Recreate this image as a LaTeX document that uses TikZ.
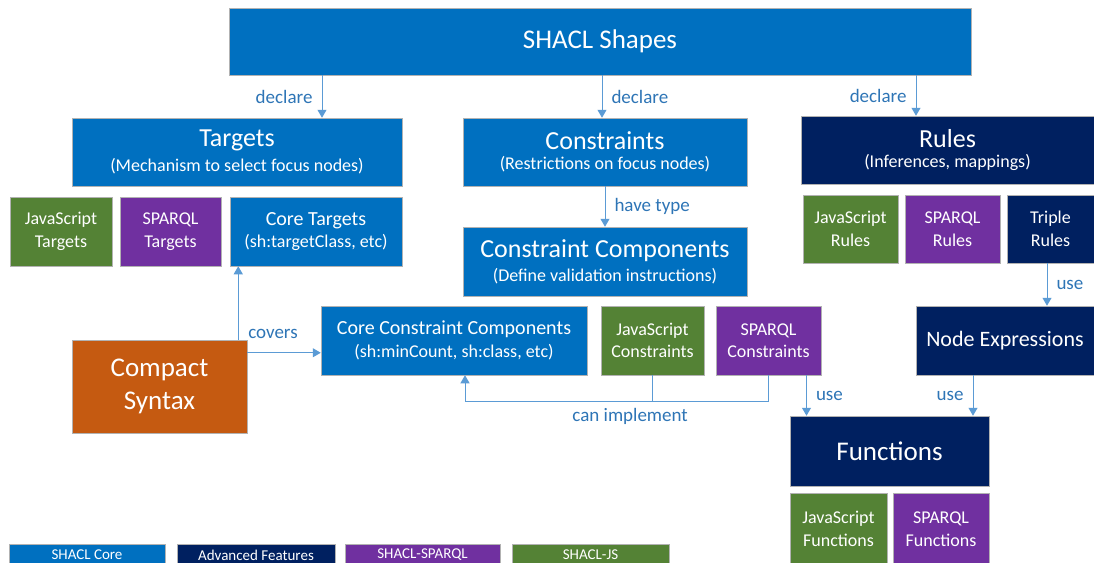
\documentclass[tikz,border=0pt]{standalone}
\usepackage{fontspec}
\setmainfont{Carlito}
\usetikzlibrary{arrows.meta}
\definecolor{coreblue}{HTML}{0070C0}
\definecolor{advnavy}{HTML}{002060}
\definecolor{jsgreen}{HTML}{548235}
\definecolor{sparqlpurple}{HTML}{7030A0}
\definecolor{compactorange}{HTML}{C55A11}
\definecolor{arrowblue}{HTML}{5B9BD5}
\definecolor{lblblue}{HTML}{2E75B6}
\newcommand{\fsz}[2][1.25]{\fontsize{#2}{#1\dimexpr #2pt\relax}\selectfont}
\begin{document}
\begin{tikzpicture}[x=1pt,y=-1pt,
  box/.style={draw=black!30, line width=0.5pt, text=white, align=center, inner sep=0pt},
  core/.style={box, fill=coreblue},
  adv/.style={box, fill=advnavy},
  js/.style={box, fill=jsgreen},
  sparql/.style={box, fill=sparqlpurple},
  arr/.style={draw=arrowblue, line width=1pt, -{Triangle[width=9pt,length=8pt]}},
  lbl/.style={text=lblblue, font=\fsz{19}, inner sep=9pt}]
  \useasboundingbox (0,0) rectangle (1094,562);
  \clip (0,0) rectangle (1094,562);
  \fill[white] (0,0) rectangle (1094,562);

  % top row
  \node[core, minimum width=742pt, minimum height=67pt, font=\fsz{27}] (shapes) at (600,41.5) {SHACL Shapes};
  \node[core, minimum width=330pt, minimum height=68pt] (targets) at (237,152)
    {\fsz[1]{26}Targets\\[6pt] \fsz[1]{18}(Mechanism to select focus nodes)};
  \node[core, minimum width=284pt, minimum height=68pt] (constraints) at (605,152)
    {\fsz[1]{26}Constraints\\[6pt] \fsz[1]{18}(Restrictions on focus nodes)};
  \node[adv, minimum width=293pt, minimum height=68pt] (rules) at (947.5,150)
    {\fsz[1]{26}Rules\\[6pt] \fsz[1]{18}(Inferences, mappings)};

  % targets
  \node[js, minimum width=102pt, minimum height=69pt, font=\fsz{18}] (jstargets) at (61,231.5) {JavaScript\\Targets};
  \node[sparql, minimum width=101pt, minimum height=69pt, font=\fsz{18}] (sparqltargets) at (170.5,231.5) {SPARQL\\Targets};
  \node[core, minimum width=172pt, minimum height=69pt] (coretargets) at (316,231.5)
    {\fsz[1]{20}Core Targets\\[5pt] \fsz[1]{18}(sh:targetClass, etc)};

  % constraints
  \node[core, minimum width=284pt, minimum height=69pt] (comps) at (605,261.5)
    {\fsz[1]{26}Constraint Components\\[6pt] \fsz[1]{18}(Define validation instructions)};
  \node[core, minimum width=266pt, minimum height=69pt] (corecomps) at (454,340.5)
    {\fsz[1]{20}Core Constraint Components\\[5pt] \fsz[1]{18}(sh:minCount, sh:class, etc)};
  \node[js, minimum width=103pt, minimum height=69pt, font=\fsz{18}] (jsconstr) at (652.5,340.5) {JavaScript\\Constraints};
  \node[sparql, minimum width=105pt, minimum height=69pt, font=\fsz{18}] (sparqlconstr) at (768.5,340.5) {SPARQL\\Constraints};

  % rules
  \node[js, minimum width=95pt, minimum height=68pt, font=\fsz{18}] (jsrules) at (850.5,229) {JavaScript\\Rules};
  \node[sparql, minimum width=95pt, minimum height=68pt, font=\fsz{18}] (sparqlrules) at (952.5,229) {SPARQL\\Rules};
  \node[adv, minimum width=87pt, minimum height=68pt, font=\fsz{18}] (triplerules) at (1050.5,229) {Triple\\Rules};
  \node[adv, minimum width=178pt, minimum height=69pt, font=\fsz{22}] (nodeexpr) at (1005,340.5) {Node Expressions};

  % functions
  \node[adv, minimum width=199pt, minimum height=70pt, font=\fsz{27}] (functions) at (889.5,451) {Functions};
  \node[js, minimum width=97pt, minimum height=72pt, font=\fsz{18}] (jsfunc) at (838.5,529) {JavaScript\\Functions};
  \node[sparql, minimum width=96pt, minimum height=72pt, font=\fsz{18}] (sparqlfunc) at (941,529) {SPARQL\\Functions};

  \node[box, fill=compactorange, minimum width=175pt, minimum height=93pt, font=\fsz{27}] (compact) at (159.5,386.5) {Compact\\Syntax};

  % legend
  \node[core, minimum width=156pt, minimum height=22pt, font=\fsz{15}] (lcore) at (87,555) {SHACL Core};
  \node[adv, minimum width=158pt, minimum height=22pt, font=\fsz{15}] (ladv) at (256,555) {Advanced Features};
  \node[sparql, minimum width=155pt, minimum height=22pt, font=\fsz{15}] (lsparql) at (422.5,555) {SHACL-SPARQL};
  \node[js, minimum width=157pt, minimum height=22pt, font=\fsz{15}] (ljs) at (590.5,555) {SHACL-JS};

  % connectors
  \draw[arr] ([xshift=85pt]targets.north |- shapes.south) -- ([xshift=85pt]targets.north) node[lbl, midway, left]{declare};
  \draw[arr] ([xshift=-3pt]constraints.north |- shapes.south) -- ([xshift=-3pt]constraints.north) node[lbl, midway, right]{declare};
  \draw[arr] ([xshift=-31.5pt]rules.north |- shapes.south) -- ([xshift=-31.5pt]rules.north) node[lbl, midway, left]{declare};
  \draw[arr] (constraints.south) -- (comps.north) node[lbl, midway, right]{have type};
  \draw[arr] ([xshift=-3.5pt]triplerules.south) -- ([xshift=-3.5pt]triplerules.south |- nodeexpr.north) node[lbl, midway, right]{use};
  \draw[arr] ([xshift=-32pt]nodeexpr.south) -- ([xshift=-32pt]nodeexpr.south |- functions.north) node[lbl, midway, left]{use};
  \draw[arr] ([xshift=38pt]sparqlconstr.south) -- ([xshift=38pt]sparqlconstr.south |- functions.north) node[lbl, midway, right]{use};
  \draw[arr] (sparqlconstr.south) -- ++(0,26) coordinate (impl) -| node[lbl, pos=0.228, below, inner sep=7pt]{can implement} ([xshift=11pt]corecomps.south);
  \draw[draw=arrowblue, line width=1pt] (jsconstr.south) -- (jsconstr.south |- impl);
  \draw[arr] ([xshift=-9pt]compact.north east) -- ([xshift=-9pt]compact.north east |- coretargets.south);
  \draw[arr] ([yshift=-13pt]compact.north east) -- ([yshift=-13pt]compact.north east -| corecomps.west) node[lbl, pos=0.35, above, yshift=5pt]{covers};
\end{tikzpicture}
\end{document}
